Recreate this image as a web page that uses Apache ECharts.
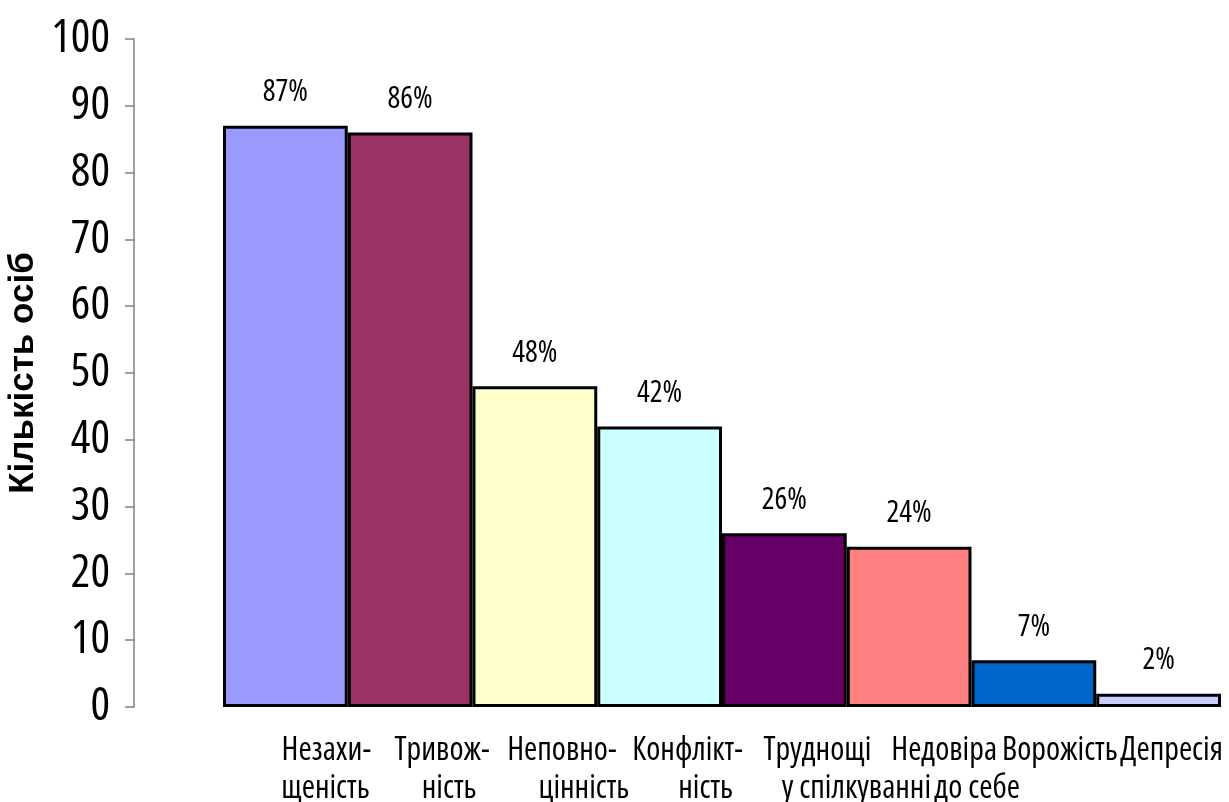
<!DOCTYPE html>
<html>
<head>
<meta charset="utf-8">
<script src="https://cdn.jsdelivr.net/npm/echarts@6/dist/echarts.min.js"></script>
<style>html,body{margin:0;padding:0;background:#fff;}#c{width:1229px;height:802px;}</style>
</head>
<body>
<div id="c"></div>
<script>
const categories = ['Незахищеність','Тривожність','Неповноцінність','Конфліктність','Труднощі у спілкуванні','Недовіра до себе','Ворожість','Депресія'];
const labelLine1 = ['Незахи-','Тривож-','Неповно-','Конфлікт-','Труднощі','Недовіра','Ворожість','Депресія'];
const labelLine2 = ['щеність','ність','цінність','ність','у спілкуванні','до себе','',''];
const values = [87, 86, 48, 42, 26, 24, 7, 2];
const barColors = ['#9999FF','#993366','#FFFFCC','#CCFFFF','#660066','#FF8080','#0066CC','#CCCCFF'];
const yTicks = { min: 0, max: 100, interval: 10 };
const yName = 'Кількість осіб';

// horizontal nudges of category labels (px), as in the source layout
const shift1 = [41, 32, 27, 28, 33, 35, 26, 13];
const shift2 = [40, 39, 49, 46, 72, 68, 0, 0];

const FONT = "'Open Sans', 'Roboto Condensed', sans-serif";
const STRETCH = 'condensed';
function richFor(shifts){
  const r = {};
  shifts.forEach((s, i) => {
    r['s' + i] = { fontFamily: FONT, fontStyle: STRETCH, fontSize: 32, color: '#000', padding: [0, 0, 0, 2 * s] };
  });
  return r;
}

const chart = echarts.init(document.getElementById('c'), null, { renderer: 'canvas' });
chart.setOption({
  animation: false,
  backgroundColor: '#fff',
  grid: { left: 223, right: 8, top: 39, bottom: 95, containLabel: false, outerBoundsMode: 'none' },
  xAxis: [
    {
      type: 'category', data: labelLine1, position: 'bottom',
      axisLine: { show: false }, axisTick: { show: false },
      axisLabel: { interval: 0, margin: 28, fontFamily: FONT, fontStyle: STRETCH, fontSize: 32,
        formatter: (v, i) => '{s' + i + '|' + v + '}', rich: richFor(shift1) }
    },
    {
      type: 'category', data: labelLine2, position: 'bottom', gridIndex: 0,
      axisLine: { show: false }, axisTick: { show: false },
      axisLabel: { interval: 0, margin: 66, fontFamily: FONT, fontStyle: STRETCH, fontSize: 32,
        formatter: (v, i) => v ? '{s' + i + '|' + v + '}' : '', rich: richFor(shift2) }
    }
  ],
  yAxis: {
    type: 'value', min: yTicks.min, max: yTicks.max, interval: yTicks.interval,
    offset: 89,
    name: yName, nameLocation: 'middle', nameGap: 82, nameRotate: 90,
    nameTextStyle: { fontFamily: "'Liberation Sans', Arial, sans-serif", fontWeight: 'bold', fontSize: 35, color: '#000' },
    axisLine: { show: true, lineStyle: { color: '#808080', width: 1.5 } },
    axisTick: { show: true, inside: false, length: 9, lineStyle: { color: '#808080', width: 1.5 } },
    axisLabel: { margin: 24, fontFamily: FONT, fontStyle: STRETCH, fontSize: 46, color: '#000' },
    splitLine: { show: false }
  },
  series: [{
    type: 'bar',
    xAxisIndex: 0,
    barWidth: '100%',
    barCategoryGap: '0%',
    data: values.map((v, i) => ({ value: v, name: categories[i], itemStyle: { color: barColors[i] } })),
    itemStyle: { borderColor: '#000', borderWidth: 3 },
    label: {
      show: true, position: 'top', distance: 18,
      formatter: p => p.value + '%',
      fontFamily: FONT, fontStyle: STRETCH, fontSize: 30, color: '#000'
    }
  }]
});
</script>
</body>
</html>
